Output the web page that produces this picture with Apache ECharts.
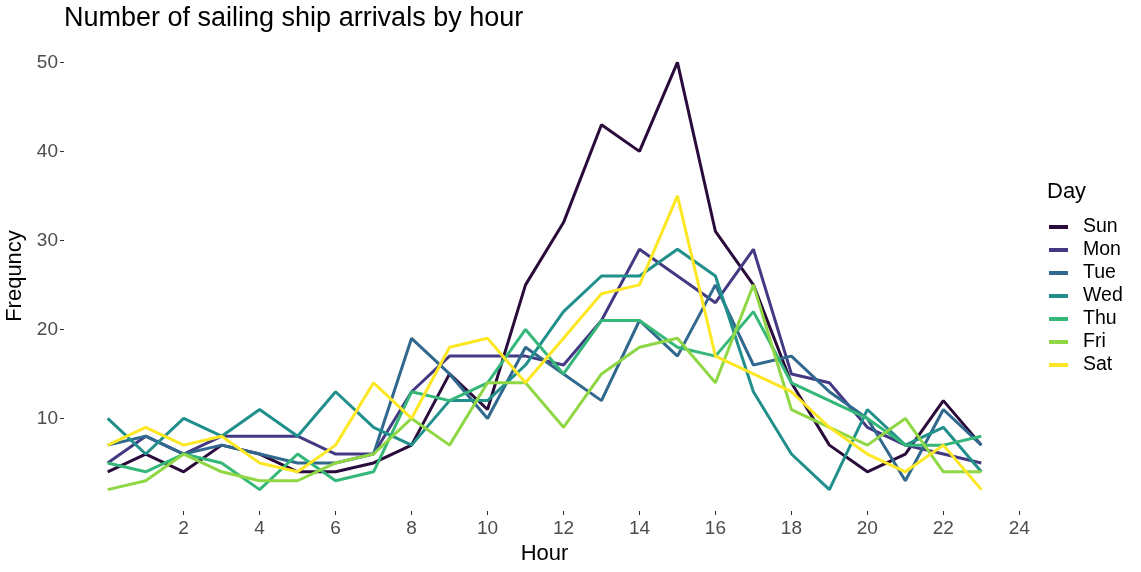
<!DOCTYPE html>
<html>
<head>
<meta charset="utf-8">
<script src="https://cdn.jsdelivr.net/npm/echarts@6/dist/echarts.min.js"></script>
<style>html,body{margin:0;padding:0;background:#fff;}#c{width:1141px;height:572px;}</style>
</head>
<body>
<div id="c"></div>
<script>
const hours = [0,1,2,3,4,5,6,7,8,9,10,11,12,13,14,15,16,17,18,19,20,21,22,23];
const days = ['Sun','Mon','Tue','Wed','Thu','Fri','Sat'];
const sun = [4,6,4,7,6,4,4,5,7,15,11,25,32,43,40,50,31,25,14,7,4,6,12,7];
const mon = [5,8,6,8,8,8,6,6,13,17,17,17,16,21,29,26,23,29,15,14,9,7,6,5];
const tue = [7,8,6,7,6,5,5,6,19,15,10,18,15,12,21,17,25,16,17,13,10,3,11,7];
const wed = [10,6,10,8,11,8,13,9,7,12,12,16,22,26,26,29,26,13,6,2,11,7,9,4];
const thu = [5,4,6,5,2,6,3,4,13,12,14,20,15,21,21,18,17,22,14,12,10,7,7,8];
const fri = [2,3,6,4,3,3,5,6,10,7,14,14,9,15,18,19,14,25,11,9,7,10,4,4];
const sat = [7,9,7,8,5,4,7,14,10,18,19,14,19,24,25,35,17,15,13,9,6,4,7,2];
const xTicks = [2,4,6,8,10,12,14,16,18,20,22,24];
const yTicks = [10,20,30,40,50];
const colors = ['#2a0b3c','#443A83','#31688E','#21908C','#35B779','#8FD744','#FDE725'];
const seriesData = [sun,mon,tue,wed,thu,fri,sat];

const chart = echarts.init(document.getElementById('c'));
const font = 'Liberation Sans, Arial, sans-serif';
chart.setOption({
  animation: false,
  color: colors,
  title: {
    text: 'Number of sailing ship arrivals by hour',
    left: 59, top: 0,
    textStyle: {fontFamily: font, fontSize: 27, fontWeight: 'normal', color: '#000'}
  },
  grid: {left: 64, right: 116, top: 41, bottom: 61, containLabel: false, outerBoundsMode: 'none'},
  xAxis: {
    type: 'value', min: -1.15, max: 24.15,
    name: 'Hour', nameLocation: 'middle', nameGap: 30,
    nameTextStyle: {fontFamily: font, fontSize: 22, color: '#000'},
    axisLine: {show: false, onZero: false},
    axisTick: {show: true, customValues: xTicks, length: 4, lineStyle: {color: '#333'}},
    axisLabel: {customValues: xTicks, fontFamily: font, fontSize: 19, color: '#4D4D4D', margin: 8},
    splitLine: {show: false}
  },
  yAxis: {
    type: 'value', min: -0.4, max: 52.4,
    name: 'Frequncy', nameLocation: 'middle', nameGap: 31, nameRotate: 90,
    nameTextStyle: {fontFamily: font, fontSize: 22, color: '#000'},
    axisLine: {show: false, onZero: false},
    axisTick: {show: true, customValues: yTicks, length: 4, lineStyle: {color: '#333'}},
    axisLabel: {customValues: yTicks, fontFamily: font, fontSize: 19, color: '#4D4D4D', margin: 6},
    splitLine: {show: false}
  },
  legend: {
    orient: 'vertical', left: 1044, top: 212,
    icon: 'rect', itemWidth: 19, itemHeight: 4, itemGap: 3,
    textStyle: {fontFamily: font, fontSize: 19.5, color: '#000', lineHeight: 20, padding: [0,0,0,10]},
    data: days
  },
  graphic: [{
    type: 'text', left: 1047, top: 181,
    style: {text: 'Day', fontFamily: font, fontSize: 22, fill: '#000'}
  }],
  series: days.map((d, i) => ({
    name: d, type: 'line',
    data: hours.map((h, j) => [h, seriesData[i][j]]),
    showSymbol: false, symbol: 'none',
    lineStyle: {width: 3, color: colors[i]},
    itemStyle: {color: colors[i]}
  }))
});
</script>
</body>
</html>
